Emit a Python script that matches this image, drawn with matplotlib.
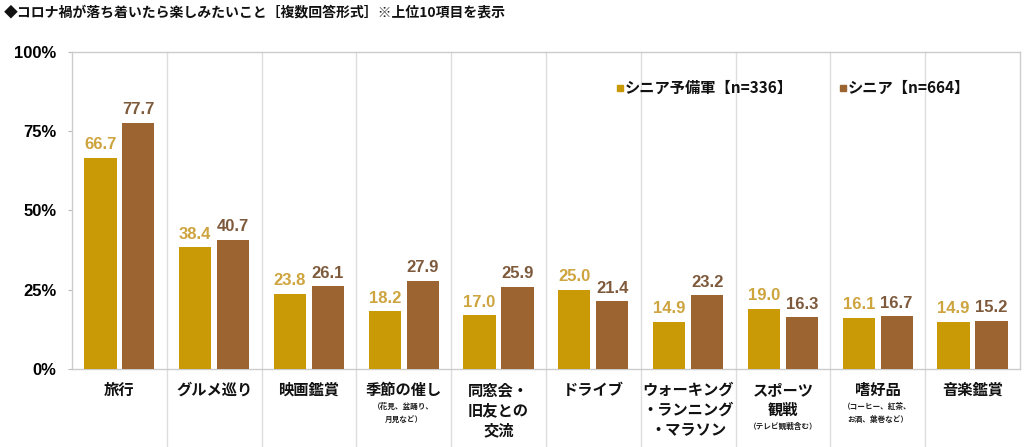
import matplotlib
matplotlib.use("Agg")
import matplotlib.pyplot as plt
import matplotlib.transforms as mtrans
import numpy as np

plt.rcParams['font.family'] = ['Noto Sans CJK JP', 'DejaVu Sans']

title = "◆コロナ禍が落ち着いたら楽しみたいこと［複数回答形式］※上位10項目を表示"
cat_main = [["旅行"], ["グルメ巡り"], ["映画鑑賞"], ["季節の催し"], ["同窓会・", "旧友との", "交流"],
            ["ドライブ"], ["ウォーキング", "・ランニング", "・マラソン"], ["スポーツ", "観戦"],
            ["嗜好品"], ["音楽鑑賞"]]
cat_sub = [[], [], [], ["（花見、盆踊り、", "月見など）"], [], [], [], ["（テレビ観戦含む）"],
           ["（コーヒー、紅茶、", "お酒、葉巻など）"], []]
series_names = ["シニア予備軍【n=336】", "シニア【n=664】"]
yobi = [66.7, 38.4, 23.8, 18.2, 17.0, 25.0, 14.9, 19.0, 16.1, 14.9]
senior = [77.7, 40.7, 26.1, 27.9, 25.9, 21.4, 23.2, 16.3, 16.7, 15.2]
yticks = [0, 25, 50, 75, 100]

bar_colors = ["#C99A06", "#9C6430"]
label_colors = ["#CDA43E", "#7E5A3C"]

fig = plt.figure(figsize=(10.24, 4.47), dpi=100)
ax = fig.add_axes([0.0703, 0.1745, 0.9257, 0.7092])
x = np.arange(len(yobi))
w = 0.34
gap = 0.03
b1 = ax.bar(x - w / 2 - gap, yobi, w, color=bar_colors[0], zorder=3)
b2 = ax.bar(x + w / 2 + gap, senior, w, color=bar_colors[1], zorder=3)
for bars, vals, c in [(b1, yobi, label_colors[0]), (b2, senior, label_colors[1])]:
    for r, v in zip(bars, vals):
        ax.annotate(f"{v:.1f}", (r.get_x() + r.get_width() / 2, v), xytext=(0, 4),
                    textcoords="offset points", ha="center", va="bottom",
                    fontsize=12, fontweight="bold", color=c, family="Liberation Sans")

ax.set_xlim(-0.5, len(yobi) - 0.5)
ax.set_ylim(0, 100)
ax.set_yticks(yticks)
ax.set_yticklabels([f"{t}%" for t in yticks], fontsize=12, fontweight="bold", family="Liberation Sans")
ax.tick_params(axis="y", length=3, color="#bbbbbb", pad=8)
ax.set_xticks([])
for s in ax.spines.values():
    s.set_color("#cccccc")
    s.set_linewidth(1.0)

trans = mtrans.blended_transform_factory(ax.transData, ax.transAxes)
for i in range(1, len(yobi)):
    ax.plot([i - 0.5, i - 0.5], [-0.44, 1.0], transform=trans, color="#dddddd",
            lw=1.0, clip_on=False, zorder=1)

# category labels
ftrans = mtrans.blended_transform_factory(ax.transData, fig.transFigure)
for i, (mains, subs) in enumerate(zip(cat_main, cat_sub)):
    ypix = 382
    for t in mains:
        ax.text(i, 1 - ypix / 447, t, transform=ftrans, ha="center", va="top",
                fontsize=11, fontweight="bold", color="#111111")
        ypix += 20
    ypix += 0
    for t in subs:
        ax.text(i, 1 - ypix / 447, t, transform=ftrans, ha="center", va="top",
                fontsize=5.5, fontweight="bold", color="#222222")
        ypix += 13

# legend
for lx, name, c in [(617, series_names[0], bar_colors[0]), (840, series_names[1], bar_colors[1])]:
    fig.patches.append(plt.Rectangle((lx / 1024, 1 - 91 / 447), 6 / 1024, 6 / 447,
                                     transform=fig.transFigure, color=c, figure=fig))
    fig.text((lx + 8) / 1024, 1 - 88 / 447, name, ha="left", va="center",
             fontsize=11, fontweight="bold", color="#111111")

fig.text(4 / 1024, 1 - 13 / 447, title, ha="left", va="center", fontsize=10,
         fontweight="bold", color="#111111")

fig.savefig("out.png", dpi=100, facecolor="white")
